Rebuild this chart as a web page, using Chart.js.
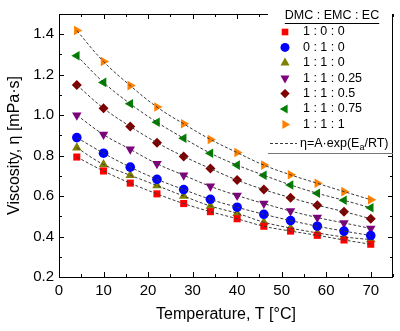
<!DOCTYPE html>
<html lang="en">
<head>
<meta charset="UTF-8">
<title>Viscosity vs Temperature</title>
<style>
    html, body { margin: 0; padding: 0; background: #fff; }
    #wrap { width: 400px; height: 331px; position: relative; }
</style>
</head>
<body>
<div id="wrap"><canvas id="viscChart"></canvas></div>

<script src="https://cdn.jsdelivr.net/npm/chart.js@4.4.9/dist/chart.umd.min.js"></script>
<script>
    // temperatures [°C]
    const temps = [4, 10, 16, 22, 28, 34, 40, 46, 52, 58, 64, 70];

    // viscosity [mPa·s] per DMC : EMC : EC ratio
    const visc100   = [0.793, 0.724, 0.664, 0.611, 0.563, 0.523, 0.488, 0.451, 0.427, 0.406, 0.383, 0.362];
    const visc010   = [0.889, 0.812, 0.743, 0.683, 0.632, 0.584, 0.545, 0.510, 0.479, 0.451, 0.427, 0.405];
    const visc110   = [0.839, 0.756, 0.703, 0.652, 0.600, 0.551, 0.515, 0.471, 0.442, 0.418, 0.398, 0.385];
    const visc11025 = [1.000, 0.904, 0.831, 0.760, 0.703, 0.648, 0.603, 0.563, 0.526, 0.494, 0.467, 0.440];
    const visc1105  = [1.149, 1.034, 0.944, 0.864, 0.796, 0.736, 0.679, 0.632, 0.592, 0.555, 0.523, 0.488];
    const visc11075 = [1.294, 1.162, 1.056, 0.965, 0.886, 0.812, 0.753, 0.703, 0.655, 0.614, 0.579, 0.542];
    const visc111   = [1.418, 1.265, 1.146, 1.040, 0.957, 0.880, 0.815, 0.753, 0.705, 0.663, 0.622, 0.582];

    const seriesLabels = ['1 : 0 : 0', '0 : 1 : 0', '1 : 1 : 0', '1 : 1 : 0.25', '1 : 1 : 0.5', '1 : 1 : 0.75', '1 : 1 : 1'];
    const seriesValues = [visc100, visc010, visc110, visc11025, visc1105, visc11075, visc111];
    const seriesColors = ['#ff0000', '#0000ff', '#808000', '#800080', '#800000', '#008000', '#ff8000'];
    const seriesStyles = ['rect', 'circle', 'triangle', 'triangle', 'rectRot', 'triangle', 'triangle'];
    const seriesRotation = [0, 0, 0, 180, 0, -90, 90];
    const seriesRadius = [5, 4.8, 5.5, 5.5, 5, 5.5, 5.5];

    const xTicks = [0, 10, 20, 30, 40, 50, 60, 70];
    const yTicks = [0.2, 0.4, 0.6, 0.8, 1.0, 1.2, 1.4];

    const FONT = 'Arial, "Liberation Sans", sans-serif';

    function toPoints(vals) {
        return temps.map((t, i) => ({ x: t, y: vals[i] }));
    }

    const datasets = [];
    // dashed fit lines (drawn on top)
    seriesValues.forEach((vals, i) => {
        datasets.push({
            label: 'fit ' + seriesLabels[i],
            data: toPoints(vals),
            showLine: true,
            borderColor: '#3a3a3a',
            borderWidth: 1,
            borderDash: [3, 2],
            pointRadius: 0,
            tension: 0.4,
            order: 0
        });
    });
    // markers
    seriesValues.forEach((vals, i) => {
        datasets.push({
            label: seriesLabels[i],
            data: toPoints(vals),
            showLine: false,
            backgroundColor: seriesColors[i],
            borderColor: seriesColors[i],
            borderWidth: 0,
            pointStyle: seriesStyles[i],
            rotation: seriesRotation[i],
            pointRadius: seriesRadius[i],
            order: 1
        });
    });

    function drawMarker(ctx, style, rot, x, y, r, color) {
        ctx.save();
        ctx.fillStyle = color;
        ctx.translate(x, y);
        ctx.rotate(rot * Math.PI / 180);
        ctx.beginPath();
        if (style === 'circle') {
            ctx.arc(0, 0, r, 0, Math.PI * 2);
        } else if (style === 'rect') {
            const s = r * Math.SQRT1_2;
            ctx.rect(-s, -s, 2 * s, 2 * s);
        } else if (style === 'rectRot') {
            ctx.moveTo(0, -r); ctx.lineTo(r, 0); ctx.lineTo(0, r); ctx.lineTo(-r, 0);
        } else {
            ctx.moveTo(0, -r);
            ctx.lineTo(r * 0.866, r * 0.5);
            ctx.lineTo(-r * 0.866, r * 0.5);
        }
        ctx.closePath();
        ctx.fill();
        ctx.restore();
    }

    const framePlugin = {
        id: 'frame',
        afterDraw(chart) {
            const ctx = chart.ctx;
            const a = chart.chartArea;
            const xs = chart.scales.x;
            const ys = chart.scales.y;
            ctx.save();
            ctx.strokeStyle = '#000';
            ctx.lineWidth = 1;
            ctx.strokeRect(Math.round(a.left) + 0.5, Math.round(a.top) + 0.5,
                Math.round(a.right - a.left) - 1, Math.round(a.bottom - a.top));

            ctx.beginPath();
            for (let v = 0; v <= 75; v += 5) {
                const px = Math.round(xs.getPixelForValue(v)) + 0.5;
                const len = v % 10 === 0 ? 5 : 3;
                ctx.moveTo(px, a.bottom); ctx.lineTo(px, a.bottom - len);
                ctx.moveTo(px, a.top); ctx.lineTo(px, a.top + len);
            }
            for (let k = 2; k <= 15; k++) {
                const py = Math.round(ys.getPixelForValue(k / 10)) + 0.5;
                const len = k % 2 === 0 ? 5 : 3;
                ctx.moveTo(a.left, py); ctx.lineTo(a.left + len, py);
                ctx.moveTo(a.right, py); ctx.lineTo(a.right - len, py);
            }
            ctx.stroke();

            // legend
            ctx.fillStyle = '#fff';
            ctx.fillRect(268, 8, a.right - 269, 145);
            ctx.strokeStyle = '#777';
            ctx.beginPath();
            ctx.moveTo(268, 153.5); ctx.lineTo(a.right, 153.5);
            ctx.stroke();

            ctx.fillStyle = '#000';
            ctx.font = '12.5px ' + FONT;
            ctx.textBaseline = 'middle';
            ctx.textAlign = 'center';
            const title = 'DMC : EMC : EC';
            ctx.fillText(title, 332, 16);
            const tw = ctx.measureText(title).width;
            ctx.strokeStyle = '#000';
            ctx.beginPath();
            ctx.moveTo(332 - tw / 2, 23.5); ctx.lineTo(332 + tw / 2, 23.5);
            ctx.stroke();

            ctx.textAlign = 'left';
            seriesLabels.forEach((lab, i) => {
                const y = 32 + i * 15.4;
                drawMarker(ctx, seriesStyles[i], seriesRotation[i], 285, y, seriesRadius[i] - 0.3, seriesColors[i]);
                ctx.fillStyle = '#000';
                ctx.fillText(lab, 303, y);
            });

            const fy = 143.5;
            ctx.strokeStyle = '#3a3a3a';
            ctx.setLineDash([3, 2]);
            ctx.beginPath();
            ctx.moveTo(270, fy); ctx.lineTo(297, fy);
            ctx.stroke();
            ctx.setLineDash([]);
            let tx = 300;
            ctx.fillStyle = '#000';
            const part1 = 'η=A·exp(E';
            ctx.fillText(part1, tx, fy);
            tx += ctx.measureText(part1).width;
            ctx.font = '9px ' + FONT;
            ctx.fillText('a', tx, fy + 4);
            tx += ctx.measureText('a').width;
            ctx.font = '12.5px ' + FONT;
            ctx.fillText('/RT)', tx, fy);
            ctx.restore();
        }
    };

    const ctx = document.getElementById('viscChart').getContext('2d');
    const viscChart = new Chart(ctx, {
        type: 'scatter',
        data: { datasets },
        options: {
            responsive: true,
            maintainAspectRatio: false,
            animation: false,
            layout: { padding: { top: 7, right: 7, left: 0, bottom: 0 } },
            plugins: {
                legend: { display: false },
                tooltip: { enabled: false }
            },
            scales: {
                x: {
                    type: 'linear',
                    min: 0,
                    max: 75,
                    afterFit: s => { s.height = 54; },
                    afterBuildTicks: s => { s.ticks = xTicks.map(v => ({ value: v })); },
                    grid: { display: false, drawTicks: false },
                    border: { display: false },
                    ticks: {
                        color: '#000',
                        padding: 5,
                        font: { family: FONT, size: 15 },
                        callback: v => String(v)
                    },
                    title: {
                        display: true,
                        text: 'Temperature, T [°C]',
                        color: '#000',
                        font: { family: FONT, size: 16 },
                        padding: { top: 0, bottom: 7 }
                    }
                },
                y: {
                    type: 'linear',
                    min: 0.2,
                    max: 1.5,
                    afterFit: s => { s.width = 59; },
                    afterBuildTicks: s => { s.ticks = yTicks.map(v => ({ value: v })); },
                    grid: { display: false, drawTicks: false },
                    border: { display: false },
                    ticks: {
                        color: '#000',
                        padding: 5,
                        font: { family: FONT, size: 15 },
                        callback: v => Number(v).toFixed(1)
                    },
                    title: {
                        display: true,
                        text: 'Viscosity, η [mPa·s]',
                        color: '#000',
                        font: { family: FONT, size: 16 },
                        padding: { top: 5, bottom: 0 }
                    }
                }
            }
        },
        plugins: [framePlugin]
    });
</script>
</body>
</html>
